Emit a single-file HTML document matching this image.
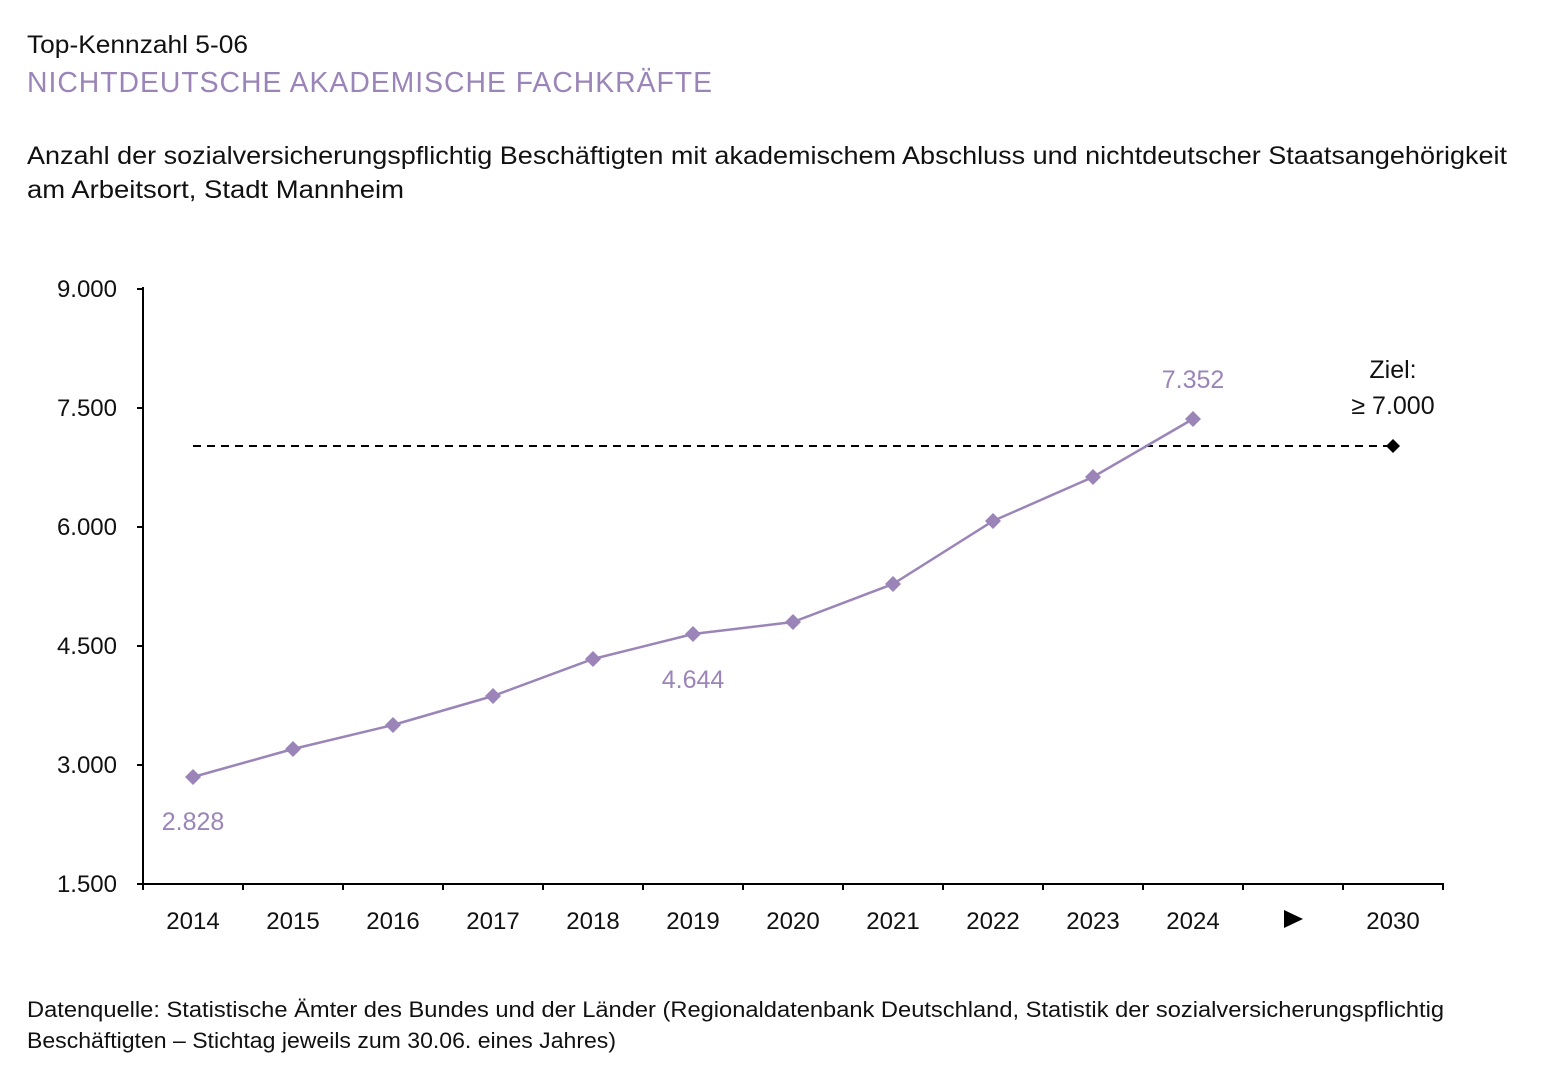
<!DOCTYPE html>
<html><head><meta charset="utf-8"><style>
body{margin:0;background:#fff;width:1543px;height:1080px;overflow:hidden;font-family:"Liberation Sans",sans-serif;}
</style></head><body>
<svg width="1543" height="1080" xmlns="http://www.w3.org/2000/svg" font-family="Liberation Sans, sans-serif">
<text x="27" y="53" font-size="25" fill="#111" textLength="221" lengthAdjust="spacingAndGlyphs">Top-Kennzahl 5-06</text>
<text x="27" y="92" font-size="29" fill="#9b85b8" letter-spacing="1" textLength="686" lengthAdjust="spacingAndGlyphs">NICHTDEUTSCHE AKADEMISCHE FACHKRÄFTE</text>
<text x="27" y="164" font-size="25" fill="#111" textLength="1480" lengthAdjust="spacingAndGlyphs">Anzahl der sozialversicherungspflichtig Beschäftigten mit akademischem Abschluss und nichtdeutscher Staatsangehörigkeit</text>
<text x="27" y="198" font-size="25" fill="#111" textLength="377" lengthAdjust="spacingAndGlyphs">am Arbeitsort, Stadt Mannheim</text>
<g stroke="#000" stroke-width="2">
<line x1="143" y1="287" x2="143" y2="885"/>
<line x1="142" y1="884" x2="1444" y2="884"/>
<line x1="137" y1="289" x2="143" y2="289"/><line x1="137" y1="408" x2="143" y2="408"/><line x1="137" y1="527" x2="143" y2="527"/><line x1="137" y1="646" x2="143" y2="646"/><line x1="137" y1="765" x2="143" y2="765"/><line x1="137" y1="884" x2="143" y2="884"/>
<line x1="243" y1="884" x2="243" y2="890"/><line x1="343" y1="884" x2="343" y2="890"/><line x1="443" y1="884" x2="443" y2="890"/><line x1="543" y1="884" x2="543" y2="890"/><line x1="643" y1="884" x2="643" y2="890"/><line x1="743" y1="884" x2="743" y2="890"/><line x1="843" y1="884" x2="843" y2="890"/><line x1="943" y1="884" x2="943" y2="890"/><line x1="1043" y1="884" x2="1043" y2="890"/><line x1="1143" y1="884" x2="1143" y2="890"/><line x1="1243" y1="884" x2="1243" y2="890"/><line x1="1343" y1="884" x2="1343" y2="890"/><line x1="1443" y1="884" x2="1443" y2="890"/><line x1="143" y1="884" x2="143" y2="890"/>
</g>
<g font-size="24" fill="#111" text-anchor="end">
<text x="117" y="297">9.000</text><text x="117" y="416">7.500</text><text x="117" y="535">6.000</text><text x="117" y="654">4.500</text><text x="117" y="773">3.000</text><text x="117" y="892">1.500</text>
</g>
<g font-size="24" fill="#111" text-anchor="middle">
<text x="193" y="929">2014</text><text x="293" y="929">2015</text><text x="393" y="929">2016</text><text x="493" y="929">2017</text><text x="593" y="929">2018</text><text x="693" y="929">2019</text><text x="793" y="929">2020</text><text x="893" y="929">2021</text><text x="993" y="929">2022</text><text x="1093" y="929">2023</text><text x="1193" y="929">2024</text><text x="1393" y="929">2030</text>
</g>
<polygon points="1284,910 1303,919 1284,928" fill="#000"/>
<line x1="193" y1="446" x2="1393" y2="446" stroke="#000" stroke-width="2" stroke-dasharray="8,6"/>
<polygon points="1393,439 1400,446 1393,453 1386,446" fill="#000"/>
<text x="1393" y="378" font-size="25" text-anchor="middle" fill="#111">Ziel:</text>
<text x="1393" y="414" font-size="25" text-anchor="middle" fill="#111">≥ 7.000</text>
<polyline points="193,777 293,749 393,725 493,696 593,659 693,634 793,622 893,584 993,521 1093,477 1193,419" fill="none" stroke="#9b85b8" stroke-width="2.5"/>
<g fill="#9b85b8">
<polygon points="193,769 201,777 193,785 185,777"/><polygon points="293,741 301,749 293,757 285,749"/><polygon points="393,717 401,725 393,733 385,725"/><polygon points="493,688 501,696 493,704 485,696"/><polygon points="593,651 601,659 593,667 585,659"/><polygon points="693,626 701,634 693,642 685,634"/><polygon points="793,614 801,622 793,630 785,622"/><polygon points="893,576 901,584 893,592 885,584"/><polygon points="993,513 1001,521 993,529 985,521"/><polygon points="1093,469 1101,477 1093,485 1085,477"/><polygon points="1193,411 1201,419 1193,427 1185,419"/>
</g>
<g font-size="25" fill="#9b85b8" text-anchor="middle">
<text x="193" y="830">2.828</text><text x="693" y="688">4.644</text><text x="1193" y="388">7.352</text>
</g>
<text x="27" y="1017" font-size="22" fill="#111" textLength="1417" lengthAdjust="spacingAndGlyphs">Datenquelle: Statistische Ämter des Bundes und der Länder (Regionaldatenbank Deutschland, Statistik der sozialversicherungspflichtig</text>
<text x="27" y="1048" font-size="22" fill="#111" textLength="589" lengthAdjust="spacingAndGlyphs">Beschäftigten – Stichtag jeweils zum 30.06. eines Jahres)</text>
</svg>
</body></html>
